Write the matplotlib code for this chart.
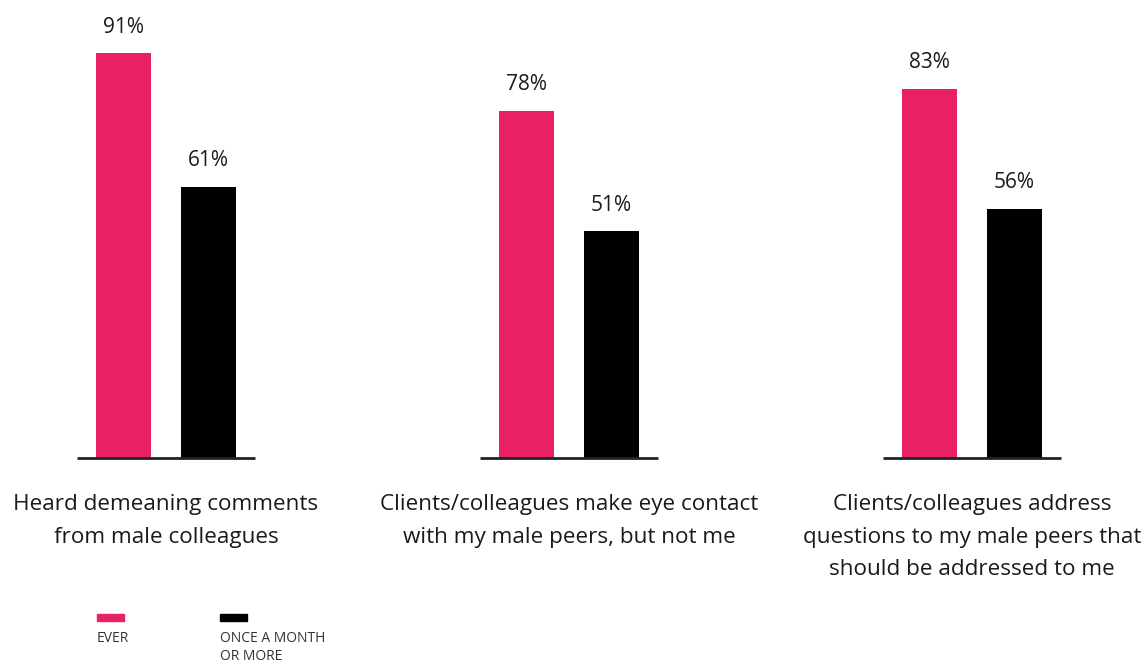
import matplotlib
matplotlib.use("Agg")
import matplotlib.pyplot as plt
from matplotlib.patches import Rectangle
import numpy as np

categories = [
    "Heard demeaning comments\nfrom male colleagues",
    "Clients/colleagues make eye contact\nwith my male peers, but not me",
    "Clients/colleagues address\nquestions to my male peers that\nshould be addressed to me",
]
ever = [91, 78, 83]
monthly = [61, 51, 56]
series_names = ["EVER", "ONCE A MONTH\nOR MORE"]

PINK = "#E82163"
BLACK = "#000000"
TEXT = "#1a1a1a"
FONT = ["Open Sans", "DejaVu Sans"]

W, H = 1145, 662
fig = plt.figure(figsize=(W / 100, H / 100), dpi=100)
ax = fig.add_axes([0, 0, 1, 1])

# pixel geometry -> data coordinates
group_px0, group_step = 166, 403
px_per_pct = 4.45
base_px = 458
ax.set_xlim(-group_px0 / group_step, (W - group_px0) / group_step)
ax.set_ylim(-(H - base_px) / px_per_pct, base_px / px_per_pct)
ax.axis("off")

x = np.arange(len(categories))
bw = 55 / group_step
off = 42.5 / group_step
half_base = 89 / group_step

ax.bar(x - off, ever, width=bw, color=PINK)
ax.bar(x + off, monthly, width=bw, color=BLACK)

for xi, a, b in zip(x, ever, monthly):
    ax.plot([xi - half_base, xi + half_base], [0, 0], color="#222222", lw=2,
            solid_capstyle="butt")
    for xx, v in ((xi - off, a), (xi + off, b)):
        ax.text(xx, v + 26 / px_per_pct, f"{v}%", ha="center", va="center",
                fontsize=15, color=TEXT, family=FONT)

for xi, lab in zip(x, categories):
    ax.text(xi, -(494 - base_px) / px_per_pct, lab, ha="center", va="top",
            fontsize=16.2, color=TEXT, family=FONT, linespacing=1.72)

# legend
leg_x = [97, 220]
leg_colors = [PINK, BLACK]
for lx, c, name in zip(leg_x, leg_colors, series_names):
    fig.patches.append(Rectangle((lx / W, 1 - 621 / H), 27 / W, 7 / H,
                                 transform=fig.transFigure, color=c))
    fig.text(lx / W, 1 - 631 / H, name, ha="left", va="top", fontsize=10,
             color="#333333", family=FONT, linespacing=1.25)

fig.savefig("out.png", dpi=100)
